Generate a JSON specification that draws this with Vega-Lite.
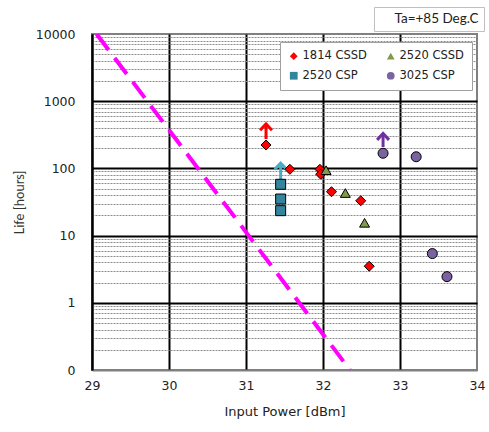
{
  "$schema": "https://vega.github.io/schema/vega-lite/v6.json",
  "width": 385,
  "height": 336,
  "autosize": {"type": "none"},
  "padding": {"left": 92, "top": 34, "right": 12, "bottom": 62},
  "background": "white",
  "config": {
    "font": "DejaVu Sans",
    "view": {"stroke": "#808080", "strokeWidth": 2}
  },
  "datasets": {
    "points": [
      {"series": "1814 CSSD", "power": 31.26, "life": 223},
      {"series": "1814 CSSD", "power": 31.57, "life": 97},
      {"series": "1814 CSSD", "power": 31.96, "life": 97},
      {"series": "1814 CSSD", "power": 31.97, "life": 82},
      {"series": "1814 CSSD", "power": 32.11, "life": 45},
      {"series": "1814 CSSD", "power": 32.49, "life": 33},
      {"series": "1814 CSSD", "power": 32.6, "life": 3.5},
      {"series": "2520 CSSD", "power": 32.04, "life": 94},
      {"series": "2520 CSSD", "power": 32.29, "life": 43},
      {"series": "2520 CSSD", "power": 32.54, "life": 15.5},
      {"series": "2520 CSP", "power": 31.45, "life": 58},
      {"series": "2520 CSP", "power": 31.45, "life": 35},
      {"series": "2520 CSP", "power": 31.45, "life": 23.5},
      {"series": "3025 CSP", "power": 32.78, "life": 168},
      {"series": "3025 CSP", "power": 33.21, "life": 149},
      {"series": "3025 CSP", "power": 33.42, "life": 5.4},
      {"series": "3025 CSP", "power": 33.61, "life": 2.45}
    ],
    "arrows": [
      {"series": "1814 CSSD", "power": 31.26, "lo": 274, "hi": 458},
      {"series": "2520 CSP", "power": 31.45, "lo": 67, "hi": 120},
      {"series": "3025 CSP", "power": 32.78, "lo": 208, "hi": 330}
    ],
    "limit": [
      {"power": 29.06, "life": 10000},
      {"power": 32.35, "life": 0.1}
    ],
    "note": [{"note": "Ta=+85 Deg.C"}]
  },
  "layer": [
    {
      "data": {"name": "limit"},
      "mark": {"type": "line", "color": "#FF00FF", "strokeWidth": 4, "strokeDash": [20, 10], "clip": true},
      "encoding": {
        "x": {
          "field": "power", "type": "quantitative",
          "scale": {"domain": [29, 34], "nice": false, "zero": false},
          "axis": {
            "title": "Input Power [dBm]",
            "values": [29, 29.5, 30, 30.5, 31, 31.5, 32, 32.5, 33, 33.5, 34],
            "labelExpr": "datum.value % 1 === 0 ? format(datum.value, 'd') : ''",
            "ticks": false,
            "grid": true,
            "gridColor": {"condition": {"test": "datum.value % 1 === 0", "value": "#000000"}, "value": "#a6a6a6"},
            "gridWidth": {"condition": {"test": "datum.value % 1 === 0", "value": 2}, "value": 1},
            "gridOpacity": {"condition": {"test": "datum.value === 34", "value": 0}, "value": 1},
            "domainColor": "#808080",
            "domainWidth": 2,
            "labelFontSize": 12.5,
            "labelColor": "#222222",
            "labelPadding": 9,
            "labelFlush": false,
            "labelOverlap": false,
            "labelBound": false,
            "titleFontSize": 13,
            "titleFontWeight": "normal",
            "titleColor": "#222222",
            "titlePadding": 14
          }
        },
        "y": {
          "field": "life", "type": "quantitative",
          "scale": {"type": "log", "domain": [0.1, 10000], "nice": false},
          "axis": {
            "title": "Life [hours]",
            "values": [0.1,0.2,0.3,0.4,0.5,0.6,0.7,0.8,0.9,1,2,3,4,5,6,7,8,9,10,20,30,40,50,60,70,80,90,100,200,300,400,500,600,700,800,900,1000,2000,3000,4000,5000,6000,7000,8000,9000,10000],
            "labelExpr": "datum.value === 0.1 ? '0' : (indexof([1,10,100,1000,10000], datum.value) >= 0 ? format(datum.value, 'd') : '')",
            "ticks": false,
            "grid": true,
            "gridColor": {"condition": {"test": "indexof([0.1,1,10,100,1000,10000], datum.value) >= 0", "value": "#000000"}, "value": "#8c8c8c"},
            "gridWidth": {"condition": {"test": "indexof([0.1,1,10,100,1000,10000], datum.value) >= 0", "value": 2}, "value": 1},
            "gridDash": {"condition": {"test": "indexof([0.1,1,10,100,1000,10000], datum.value) >= 0", "value": []}, "value": [2, 1]},
            "gridOpacity": {"condition": {"test": "datum.value === 0.1 || datum.value === 10000", "value": 0}, "value": 1},
            "domainColor": "#000000",
            "domainWidth": 2,
            "labelFontSize": 12.5,
            "labelColor": "#222222",
            "labelPadding": 17,
            "labelFlush": false,
            "labelOverlap": false,
            "labelBound": false,
            "titleFont": "Lato",
            "titleFontSize": 13,
            "titleFontWeight": "normal",
            "titleColor": "#333333",
            "titlePadding": 9
          }
        }
      }
    },
    {
      "data": {"name": "arrows"},
      "mark": {"type": "rule", "strokeWidth": 3},
      "encoding": {
        "x": {"field": "power", "type": "quantitative"},
        "y": {"field": "lo", "type": "quantitative"},
        "y2": {"field": "hi"},
        "stroke": {
          "field": "series", "type": "nominal",
          "scale": {"domain": ["1814 CSSD", "2520 CSP", "3025 CSP"], "range": ["#FF0000", "#4BACC6", "#7030A0"]},
          "legend": null
        }
      }
    },
    {
      "data": {"name": "arrows"},
      "mark": {"type": "point", "filled": false, "shape": "M-0.85,0.9L0,0L0.85,0.9", "size": 196, "strokeWidth": 3, "opacity": 1},
      "encoding": {
        "x": {"field": "power", "type": "quantitative"},
        "y": {"field": "hi", "type": "quantitative"},
        "stroke": {"field": "series", "type": "nominal", "legend": null}
      }
    },
    {
      "data": {"name": "points"},
      "mark": {"type": "point", "filled": true, "stroke": "#000000", "strokeWidth": 1, "size": 100, "opacity": 1},
      "encoding": {
        "x": {"field": "power", "type": "quantitative"},
        "y": {"field": "life", "type": "quantitative"},
        "fill": {
          "field": "series", "type": "nominal",
          "scale": {"domain": ["1814 CSSD", "2520 CSP", "2520 CSSD", "3025 CSP"], "range": ["#FF0000", "#31859C", "#7F9A48", "#7B62A0"]},
          "legend": {
            "title": null, "orient": "none", "legendX": 188, "legendY": 8, "columns": 2,
            "fillColor": "white", "strokeColor": "#a0a0a0", "padding": 8,
            "labelFontSize": 11.5, "labelColor": "#222222", "symbolSize": 60,
            "symbolStrokeWidth": 0, "columnPadding": 18, "rowPadding": 7, "labelOffset": 3
          }
        },
        "shape": {
          "field": "series", "type": "nominal",
          "scale": {"domain": ["1814 CSSD", "2520 CSP", "2520 CSSD", "3025 CSP"], "range": ["diamond", "square", "triangle-up", "circle"]},
          "legend": {
            "title": null, "orient": "none", "legendX": 188, "legendY": 8, "columns": 2,
            "fillColor": "white", "strokeColor": "#a0a0a0", "padding": 8,
            "labelFontSize": 11.5, "labelColor": "#222222", "symbolSize": 60,
            "symbolStrokeWidth": 0, "columnPadding": 18, "rowPadding": 7, "labelOffset": 3
          }
        }
      }
    },
    {
      "data": {"name": "note"},
      "mark": {"type": "text", "text": ""},
      "encoding": {
        "opacity": {
          "field": "note", "type": "ordinal",
          "legend": {
            "title": null, "orient": "none", "legendX": 282, "legendY": -27,
            "fillColor": "white", "strokeColor": "#c0c0c0", "padding": 5,
            "labelFont": "Lato", "labelFontSize": 13.5, "labelColor": "#222222", "symbolSize": 0,
            "symbolOpacity": 0, "labelOffset": 2,
            "encode": {"symbols": {"update": {"opacity": {"value": 0}}}}
          }
        }
      }
    }
  ]
}
